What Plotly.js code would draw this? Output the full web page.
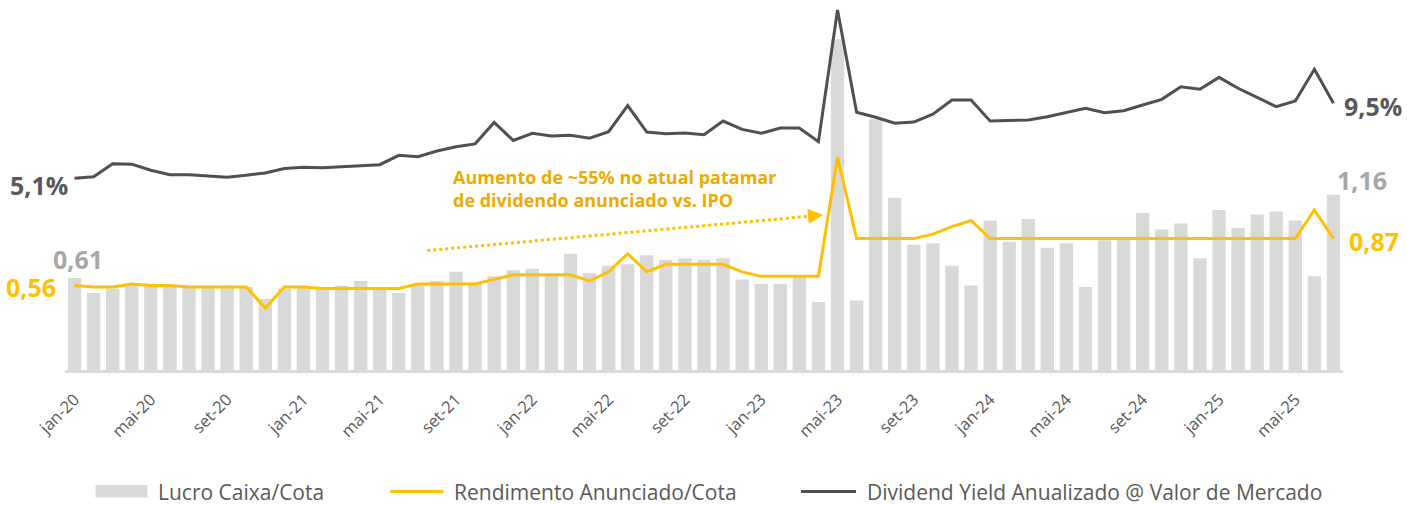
<!DOCTYPE html>
<html>
<head>
<meta charset="utf-8">
<script src="https://cdn.plot.ly/plotly-3.0.1.min.js"></script>
<style>
  html, body { margin: 0; padding: 0; background: #ffffff; }
  #chart { width: 1407px; height: 505px; }
</style>
</head>
<body>
<div id="chart"></div>
<script>
// ---- Data ----
const months = ["jan","fev","mar","abr","mai","jun","jul","ago","set","out","nov","dez"];
const categories = [];
for (let y = 20; y <= 25; y++) {
  for (let m = 0; m < 12; m++) {
    if (y === 25 && m > 6) break;
    categories.push(months[m] + "-" + y);
  }
}
const tickLabels = ["jan-20","mai-20","set-20","jan-21","mai-21","set-21","jan-22","mai-22","set-22",
                    "jan-23","mai-23","set-23","jan-24","mai-24","set-24","jan-25","mai-25"];

const lucroCaixaCota = [
  0.61,0.51,0.54,0.57,0.55,0.56,0.55,0.55,0.56,0.55,
  0.47,0.54,0.55,0.54,0.56,0.59,0.54,0.51,0.56,0.59,
  0.65,0.58,0.62,0.66,0.67,0.63,0.77,0.64,0.69,0.70,
  0.76,0.73,0.74,0.73,0.74,0.60,0.57,0.57,0.62,0.45,
  2.19,0.46,1.66,1.14,0.83,0.84,0.69,0.56,0.99,0.85,
  1.00,0.81,0.84,0.55,0.86,0.87,1.04,0.93,0.97,0.74,
  1.06,0.94,1.03,1.05,0.99,0.62,1.16
];
const rendimentoAnunciado = [
  0.56,0.55,0.55,0.57,0.56,0.56,0.55,0.55,0.55,0.55,
  0.41,0.55,0.55,0.54,0.54,0.54,0.54,0.54,0.57,0.57,
  0.57,0.57,0.60,0.63,0.63,0.63,0.63,0.59,0.65,0.77,
  0.65,0.70,0.70,0.70,0.70,0.65,0.62,0.62,0.62,0.62,
  1.41,0.87,0.87,0.87,0.87,0.90,0.95,0.99,0.87,0.87,
  0.87,0.87,0.87,0.87,0.87,0.87,0.87,0.87,0.87,0.87,
  0.87,0.87,0.87,0.87,0.87,1.06,0.87
];
const dividendYield = [
  5.10,5.19,5.96,5.93,5.57,5.31,5.31,5.25,5.16,5.28,
  5.41,5.67,5.75,5.72,5.80,5.84,5.90,6.45,6.37,6.70,
  6.95,7.12,8.38,7.32,7.74,7.58,7.62,7.45,7.83,9.36,
  7.81,7.72,7.76,7.66,8.46,7.97,7.74,8.05,8.05,7.25,
  14.97,8.97,8.68,8.33,8.40,8.86,9.69,9.69,8.46,8.47,
  8.52,8.71,8.95,9.20,8.95,9.06,9.40,9.73,10.47,10.32,
  11.02,10.38,9.85,9.30,9.63,11.49,9.50
];
const seriesNames = ["Lucro Caixa/Cota","Rendimento Anunciado/Cota","Dividend Yield Anualizado @ Valor de Mercado"];
const calloutText = "Aumento de ~55% no atual patamar<br>de dividendo anunciado vs. IPO";

// ---- Styling ----
const FONT = "'Open Sans', 'Noto Sans', sans-serif";
const C_BAR = "#D9D9D9", C_YEL = "#FFC000", C_DARK = "#505050";
const C_TXT = "#595959", C_BARLBL = "#A6A6A6", C_CALLOUT = "#EBAB00";

const W = 1407, H = 505;
const M = {l: 64.5, r: 63.7, t: 5, b: 135};
const plotW = W - M.l - M.r, plotH = H - M.t - M.b;
const PX = px => (px - M.l) / plotW;           // page pixel -> paper x
const PY = py => (H - M.b - py) / plotH;        // page pixel -> paper y

const n = categories.length;
const last = n - 1;
const fmt = (v, d) => v.toFixed(d).replace(".", ",");

const traces = [
  {type: "bar", x: categories, y: lucroCaixaCota, name: seriesNames[0],
   marker: {color: C_BAR}, showlegend: false, hoverinfo: "skip"},
  {type: "scatter", mode: "lines", x: categories, y: rendimentoAnunciado, name: seriesNames[1],
   line: {color: C_YEL, width: 3}, showlegend: false, hoverinfo: "skip"},
  {type: "scatter", mode: "lines", x: categories, y: dividendYield, name: seriesNames[2], yaxis: "y2",
   line: {color: C_DARK, width: 3}, showlegend: false, hoverinfo: "skip"}
];

const lblFont = (c) => ({family: FONT, size: 25, color: c, weight: "bold"});

const annotations = [
  {x: categories[0], y: lucroCaixaCota[0], text: fmt(lucroCaixaCota[0], 2), showarrow: false,
   xanchor: "center", yanchor: "bottom", xshift: 3, yshift: 0, font: lblFont(C_BARLBL)},
  {x: categories[0], y: rendimentoAnunciado[0], text: fmt(rendimentoAnunciado[0], 2), showarrow: false,
   xanchor: "right", yanchor: "middle", xshift: -17, yshift: -2, font: lblFont(C_YEL)},
  {x: categories[0], y: dividendYield[0], yref: "y2", text: fmt(dividendYield[0], 1) + "%", showarrow: false,
   xanchor: "right", yanchor: "middle", xshift: -5, yshift: -7, font: lblFont(C_TXT)},
  {x: categories[last], y: dividendYield[last], yref: "y2", text: fmt(dividendYield[last], 1) + "%", showarrow: false,
   xanchor: "left", yanchor: "middle", xshift: 9, yshift: -3, font: lblFont(C_TXT)},
  {x: categories[last], y: lucroCaixaCota[last], text: fmt(lucroCaixaCota[last], 2), showarrow: false,
   xanchor: "left", yanchor: "middle", xshift: 2, yshift: 15, font: lblFont(C_BARLBL)},
  {x: categories[last], y: rendimentoAnunciado[last], text: fmt(rendimentoAnunciado[last], 2), showarrow: false,
   xanchor: "left", yanchor: "middle", xshift: 14, yshift: -2, font: lblFont(C_YEL)},
  // callout text
  {xref: "paper", yref: "paper", x: PX(451), y: PY(188.5), text: calloutText, showarrow: false,
   xanchor: "left", yanchor: "middle", align: "left",
   font: {family: FONT, size: 18, color: C_CALLOUT, weight: "bold"}},
  // arrow head of the dotted trend arrow
  {xref: "paper", yref: "paper", x: PX(823), y: PY(215), axref: "pixel", ayref: "pixel",
   ax: -16, ay: 1.4, text: "", showarrow: true, arrowhead: 2, arrowsize: 1.5, arrowwidth: 2,
   arrowcolor: C_YEL}
];

// custom legend
const legY = 491.5;
const legFont = {family: FONT, size: 21, color: C_TXT};
annotations.push(
  {xref: "paper", yref: "paper", x: PX(156), y: PY(legY), text: seriesNames[0], showarrow: false,
   xanchor: "left", yanchor: "middle", font: legFont},
  {xref: "paper", yref: "paper", x: PX(452), y: PY(legY), text: seriesNames[1], showarrow: false,
   xanchor: "left", yanchor: "middle", font: legFont},
  {xref: "paper", yref: "paper", x: PX(865), y: PY(legY), text: seriesNames[2], showarrow: false,
   xanchor: "left", yanchor: "middle", font: legFont}
);

const shapes = [
  // dotted trend line
  {type: "line", xref: "paper", yref: "paper", x0: PX(427), y0: PY(250.5), x1: PX(809), y1: PY(216.3),
   line: {color: C_YEL, width: 3, dash: "dot"}},
  // legend symbols
  {type: "rect", xref: "paper", yref: "paper", x0: PX(95), x1: PX(147), y0: PY(497.5), y1: PY(485),
   fillcolor: C_BAR, line: {width: 0}},
  {type: "line", xref: "paper", yref: "paper", x0: PX(390), x1: PX(443), y0: PY(legY), y1: PY(legY),
   line: {color: C_YEL, width: 3}},
  {type: "line", xref: "paper", yref: "paper", x0: PX(801), x1: PX(856), y0: PY(legY), y1: PY(legY),
   line: {color: C_DARK, width: 3}}
];

const layout = {
  width: W, height: H,
  margin: {l: M.l, r: M.r, t: M.t, b: M.b, pad: 0},
  paper_bgcolor: "#ffffff", plot_bgcolor: "#ffffff",
  font: {family: FONT, color: C_TXT},
  bargap: 0.3,
  showlegend: false,
  hovermode: false,
  xaxis: {
    type: "category", categoryorder: "array", categoryarray: categories,
    range: [-0.5, n - 0.5],
    tickmode: "array", tickvals: tickLabels, ticktext: tickLabels,
    tickangle: -45, tickfont: {family: FONT, size: 16.5, color: C_TXT},
    ticklabelstandoff: 11,
    ticks: "", showgrid: false, zeroline: false,
    showline: true, linecolor: C_BAR, linewidth: 2.5
  },
  yaxis: {range: [0, 2.417], visible: false, showgrid: false, zeroline: false, fixedrange: true},
  yaxis2: {range: [-6.143, 15.264], overlaying: "y", side: "right", visible: false,
           showgrid: false, zeroline: false, fixedrange: true},
  annotations: annotations,
  shapes: shapes
};

Plotly.newPlot("chart", traces, layout, {displayModeBar: false, staticPlot: true});
</script>
</body>
</html>
